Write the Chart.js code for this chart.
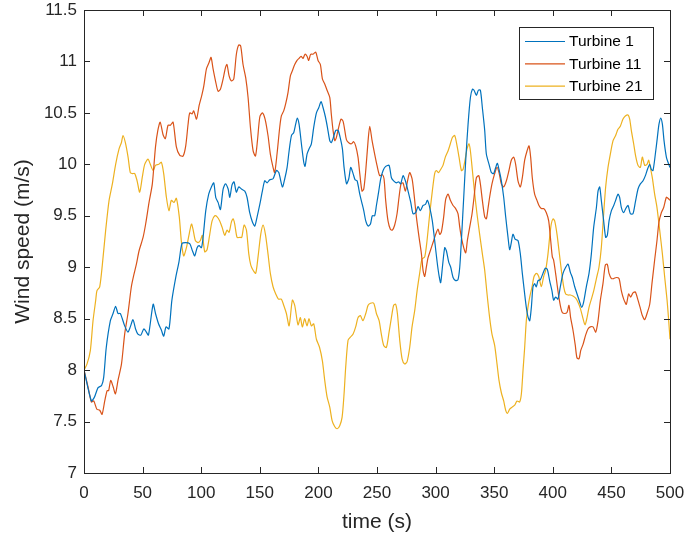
<!DOCTYPE html>
<html>
<head>
<meta charset="utf-8">
<script src="https://cdn.jsdelivr.net/npm/chart.js@4.4.1/dist/chart.umd.min.js"></script>
<style>
  html, body { margin: 0; padding: 0; background: #fff; }
  #wrap { width: 686px; height: 537px; }
</style>
</head>
<body>
<div id="wrap"><canvas id="windChart" width="686" height="537"></canvas></div>
<script>
// wind speed records for three turbines, time in seconds
const seriesNames = ['Turbine 1', 'Turbine 11', 'Turbine 21'];

const turbine1Time = [0, 6.3, 9, 12, 15, 16.8, 19, 22.5, 24.8, 27, 29, 31, 34.7, 37.5, 39.5, 41.8, 44, 46, 48.5, 51, 53.2, 55, 59, 61, 63.6, 66, 68, 70, 72.5, 75, 78.6, 81, 83.6, 86.5, 90.2, 92.5, 94.5, 96.5, 98.2, 100.2, 101.6, 103.9, 106.4, 108.7, 110.7, 112.4, 114.4, 116.4, 118.7, 120.7, 123, 124.4, 126.3, 128, 130, 132, 134.3, 137.2, 139.1, 141.4, 143.7, 145.7, 147.7, 150, 152.2, 154.2, 156.2, 158.5, 161.3, 164.2, 166.2, 169.3, 171.3, 173.3, 175, 177, 179, 180.6, 182, 183.5, 185.5, 187.5, 188.6, 190.3, 192, 194, 196, 198.3, 200.3, 202.3, 204, 206, 207.7, 209.7, 211, 212.5, 214.8, 216.8, 218.8, 220.5, 221.9, 224, 225.9, 227.6, 229.6, 231.3, 233, 235.3, 237, 238.7, 240.4, 242.4, 244.4, 246, 248, 249.5, 251.5, 253.2, 255.2, 257.4, 260.3, 262.3, 264.2, 266.5, 268.5, 270.2, 272.2, 274.2, 276.5, 278.8, 280.7, 283, 285, 287, 289.3, 291.3, 293, 295, 297.2, 299.2, 301.2, 302.9, 304.3, 305.8, 307.8, 309.2, 311.2, 312.9, 314.9, 317.1, 319.1, 320.6, 322, 324, 325.7, 327.7, 329.7, 331.4, 332.8, 334.8, 336.5, 338.2, 339.9, 341.9, 343.3, 345.6, 347.6, 349.5, 351.3, 352.7, 354.1, 356.1, 358.1, 359.8, 361.8, 363.2, 364.6, 366, 368, 370.3, 372.3, 374, 376, 377.4, 378.8, 380.3, 381.7, 383.1, 384.5, 385.9, 387.4, 389.4, 391.6, 393.6, 395.3, 397.3, 399.3, 400.7, 402.4, 404.4, 406.4, 408.7, 411, 413, 415, 416.7, 418.7, 420.7, 423, 424.6, 426.3, 428.6, 430.9, 432.9, 434.9, 437.2, 438.6, 440, 441.4, 443.4, 445.1, 446.5, 448, 450, 452, 453.6, 455.6, 457, 458.5, 460.5, 462.2, 464.2, 466.2, 468.4, 470.4, 472.7, 474.7, 477, 479, 480.7, 482.7, 484.1, 485.5, 487.5, 489.2, 490.6, 492.1, 493.5, 494.9, 496.9, 498.3, 500];
const turbine1Speed = [8.0, 7.70, 7.74, 7.83, 7.85, 7.93, 8.22, 8.48, 8.55, 8.62, 8.55, 8.55, 8.43, 8.37, 8.42, 8.49, 8.40, 8.35, 8.34, 8.40, 8.37, 8.34, 8.64, 8.55, 8.45, 8.39, 8.33, 8.42, 8.40, 8.68, 8.92, 9.05, 9.23, 9.24, 9.23, 9.16, 9.11, 9.19, 9.21, 9.19, 9.29, 9.55, 9.71, 9.78, 9.82, 9.68, 9.63, 9.56, 9.76, 9.81, 9.76, 9.68, 9.80, 9.83, 9.73, 9.78, 9.76, 9.74, 9.68, 9.53, 9.44, 9.40, 9.49, 9.61, 9.74, 9.84, 9.82, 9.85, 9.86, 9.94, 9.92, 9.78, 9.86, 9.97, 10.13, 10.28, 10.31, 10.39, 10.45, 10.39, 10.20, 10.02, 9.98, 10.10, 10.15, 10.20, 10.36, 10.50, 10.55, 10.61, 10.55, 10.46, 10.36, 10.23, 10.21, 10.25, 10.33, 10.33, 10.25, 10.15, 9.97, 9.81, 9.86, 9.97, 9.91, 9.85, 9.84, 9.71, 9.63, 9.55, 9.45, 9.40, 9.42, 9.50, 9.50, 9.60, 9.74, 9.86, 9.94, 9.98, 9.99, 9.87, 9.84, 9.82, 9.83, 9.81, 9.89, 9.84, 9.74, 9.63, 9.52, 9.53, 9.59, 9.55, 9.60, 9.61, 9.65, 9.58, 9.45, 9.26, 9.06, 8.92, 8.85, 9.00, 9.19, 9.16, 9.05, 9.00, 8.90, 8.87, 8.88, 9.00, 9.26, 9.68, 10.04, 10.39, 10.65, 10.73, 10.72, 10.67, 10.72, 10.72, 10.55, 10.33, 10.10, 10.00, 9.92, 9.91, 9.97, 10.01, 9.95, 9.84, 9.68, 9.49, 9.29, 9.17, 9.24, 9.32, 9.27, 9.26, 9.13, 8.94, 8.74, 8.61, 8.52, 8.48, 8.61, 8.81, 8.84, 8.81, 8.87, 8.88, 8.94, 8.99, 8.98, 8.87, 8.77, 8.68, 8.71, 8.69, 8.81, 8.94, 9.00, 9.03, 8.95, 8.90, 8.81, 8.74, 8.66, 8.61, 8.66, 8.81, 8.94, 9.13, 9.39, 9.58, 9.74, 9.78, 9.65, 9.45, 9.29, 9.31, 9.45, 9.55, 9.60, 9.65, 9.71, 9.68, 9.58, 9.53, 9.57, 9.60, 9.52, 9.52, 9.63, 9.76, 9.81, 9.84, 9.89, 9.95, 10.00, 9.95, 9.94, 10.10, 10.26, 10.39, 10.45, 10.39, 10.23, 10.07, 10.02, 9.97];

const turbine11Time = [0, 3.4, 6.3, 8.3, 11, 13.4, 15.4, 17.7, 19.7, 21, 22.8, 24.8, 26.8, 29, 32, 34.7, 37.5, 40.4, 42.4, 44.7, 47, 50.4, 52.6, 55.5, 58.3, 61, 63, 65, 67.4, 69.4, 71.7, 73.7, 76, 78.8, 81.6, 84.5, 86.8, 88.8, 90.2, 92.2, 93.6, 96, 98.2, 100.5, 102.2, 104.5, 106.7, 108.4, 110.1, 112.4, 114.4, 116.4, 118.7, 120.7, 122, 123.8, 125.8, 127.8, 130, 132, 133.7, 135.7, 138, 140, 142, 144.3, 146.3, 148, 150, 152.2, 154.5, 157, 159, 161.3, 162.7, 164.7, 167, 168.4, 170.4, 172.1, 174.1, 176.1, 177.8, 179.8, 181.8, 183.5, 185.2, 186.9, 188.6, 190.3, 191.7, 193.4, 195.4, 197.7, 199.7, 201.7, 203.4, 205.4, 207.4, 209.7, 211, 212.5, 214, 215.3, 217.3, 219.3, 221, 222.5, 223.9, 225.9, 228.2, 230.1, 231.8, 233.8, 235.3, 237.2, 238.7, 240.4, 242.4, 243.8, 245.8, 248, 250, 252.3, 254.6, 256, 257.4, 259.4, 261.4, 263.1, 265.1, 267.1, 268.8, 270.5, 272.2, 274.2, 275.9, 277.9, 279.9, 281.6, 283.6, 285.9, 287.9, 289.3, 290.7, 292.1, 293.5, 295.5, 297.8, 300.1, 302.1, 303.5, 304.9, 306.9, 308.6, 310.6, 312.6, 314.9, 317.1, 319.1, 320.6, 322, 324, 325.7, 327.1, 329.1, 331.1, 332.8, 334.8, 336.8, 338.2, 339.9, 341.9, 343.3, 344.7, 346.1, 348.1, 350.4, 352.4, 354.1, 356.1, 358.1, 360.4, 362.6, 364.6, 366.6, 368.3, 370.3, 372.3, 374, 376, 378, 379.7, 381.1, 382.5, 384.5, 386.5, 388.2, 390.2, 392.2, 394.5, 396.5, 398.2, 399.6, 400.7, 402.4, 404.4, 406.4, 408.1, 410.1, 412.1, 413.8, 415.2, 417.2, 419.2, 420.6, 422.4, 423.8, 425.8, 428, 430, 432, 434.3, 436.6, 438.6, 440.6, 442.8, 444.8, 446.5, 448, 450, 452, 454.2, 456.5, 458.5, 460.5, 462.7, 464.7, 466.4, 468.4, 470.4, 472.7, 474.7, 476.4, 478.4, 480.4, 482.7, 484.6, 486.9, 488.9, 490.6, 492.6, 494.6, 496.9, 498.3, 500];
const turbine11Speed = [8.0, 7.84, 7.69, 7.70, 7.62, 7.61, 7.57, 7.70, 7.80, 7.80, 7.90, 7.84, 7.77, 7.90, 8.06, 8.35, 8.55, 8.81, 8.92, 9.03, 9.16, 9.29, 9.42, 9.63, 9.81, 10.17, 10.33, 10.41, 10.29, 10.25, 10.38, 10.38, 10.41, 10.17, 10.09, 10.08, 10.18, 10.39, 10.50, 10.49, 10.52, 10.44, 10.57, 10.67, 10.76, 10.93, 10.99, 11.04, 10.93, 10.80, 10.71, 10.73, 10.83, 10.94, 10.97, 10.86, 10.81, 10.83, 11.07, 11.16, 11.15, 10.97, 10.84, 10.65, 10.36, 10.13, 10.08, 10.23, 10.46, 10.50, 10.44, 10.28, 10.10, 9.97, 9.92, 10.10, 10.36, 10.47, 10.52, 10.59, 10.70, 10.86, 10.91, 10.97, 11.01, 11.03, 11.05, 11.03, 11.07, 11.05, 11.01, 11.07, 11.07, 11.09, 11.01, 10.97, 10.83, 10.78, 10.72, 10.65, 10.49, 10.33, 10.23, 10.26, 10.36, 10.44, 10.42, 10.33, 10.24, 10.21, 10.20, 10.22, 10.18, 10.07, 9.91, 9.74, 9.76, 9.94, 10.23, 10.37, 10.23, 10.10, 9.99, 9.89, 9.90, 9.86, 9.65, 9.45, 9.37, 9.36, 9.41, 9.52, 9.68, 9.81, 9.82, 9.74, 9.83, 9.92, 9.86, 9.71, 9.49, 9.29, 9.13, 8.97, 8.91, 9.00, 9.09, 9.16, 9.24, 9.32, 9.37, 9.32, 9.34, 9.49, 9.66, 9.71, 9.65, 9.60, 9.57, 9.52, 9.39, 9.29, 9.19, 9.14, 9.26, 9.39, 9.52, 9.68, 9.87, 9.89, 9.81, 9.65, 9.49, 9.47, 9.57, 9.68, 9.81, 9.91, 9.97, 9.92, 9.81, 9.78, 9.84, 9.94, 10.04, 10.07, 10.00, 9.84, 9.78, 9.87, 10.04, 10.13, 10.18, 10.07, 9.87, 9.71, 9.65, 9.60, 9.57, 9.57, 9.53, 9.45, 9.26, 9.10, 9.07, 8.94, 8.77, 8.63, 8.56, 8.55, 8.56, 8.63, 8.51, 8.39, 8.24, 8.12, 8.11, 8.19, 8.25, 8.34, 8.40, 8.42, 8.42, 8.37, 8.48, 8.68, 8.84, 9.02, 9.03, 8.94, 8.89, 8.89, 8.90, 8.89, 8.77, 8.69, 8.64, 8.74, 8.71, 8.75, 8.76, 8.68, 8.60, 8.53, 8.49, 8.55, 8.64, 8.84, 9.07, 9.26, 9.44, 9.53, 9.58, 9.68, 9.67, 9.65];

const turbine21Time = [0, 2.6, 5.4, 7.7, 10, 11, 13.4, 15.7, 18.5, 21.4, 24.2, 27, 29.9, 31.9, 33.3, 35.3, 37.6, 39.5, 41.3, 43.3, 45.3, 47.5, 49.8, 51.8, 54.6, 56.6, 59, 61, 63.7, 66, 68, 70.3, 72.5, 74.5, 76.8, 78.8, 81.3, 83, 85, 87.4, 89.7, 91.7, 93, 95, 97.3, 99.3, 101, 103, 105, 107.3, 109.3, 111.6, 113.6, 115.8, 117.8, 120.1, 122, 123.8, 125.8, 127.2, 128.6, 130.6, 132.9, 134.6, 136.6, 138.6, 140.6, 142.3, 144.3, 146.5, 148.5, 150.8, 152.8, 154.8, 157, 159, 161.3, 163.6, 165.9, 168.4, 170.4, 172.7, 175, 177.8, 179.8, 182.6, 184.6, 186.3, 188.3, 190.3, 192, 194, 196, 198.3, 201, 203.4, 205.4, 207.4, 209.7, 211.7, 214, 216, 218.2, 220.2, 221.9, 223.3, 225.3, 227.3, 229.6, 231.8, 233.8, 235.8, 238, 240.4, 242.4, 244.4, 247.2, 249.5, 251.8, 253.7, 255.7, 258, 260.3, 262.3, 264.2, 265.9, 267.4, 269.4, 271.4, 273.6, 275.6, 277.9, 279.9, 282.2, 284.2, 286.4, 288.4, 290.7, 292.7, 295, 297.2, 299.2, 300.6, 302.6, 304.3, 306.3, 308.3, 310.6, 312.6, 314.3, 316.3, 318.3, 320, 322, 323.4, 325.1, 326.8, 328.5, 329.7, 331.4, 333.4, 335.3, 337.6, 339.9, 341.9, 343.9, 346.1, 348.1, 350.4, 352.4, 354.1, 356.1, 358.1, 359.8, 361.2, 363.2, 365.2, 367.5, 369.5, 371.7, 373.2, 374.6, 376, 377.4, 378.8, 380.3, 382.3, 384, 386, 388, 390.2, 392.2, 393.9, 395.9, 397.3, 398.7, 400.2, 401.6, 403.6, 405.3, 407.3, 409.3, 411, 413, 415, 417.2, 419.5, 421.5, 423.5, 425.8, 427.5, 429.2, 430.9, 432.9, 434.9, 437.2, 439.4, 441.4, 443.4, 445.1, 447.1, 449.1, 451.4, 453.6, 455.6, 457.6, 459.9, 461.9, 464.2, 465.6, 467, 469, 470.7, 472.7, 474.7, 476.4, 478.4, 480.4, 481.8, 483.2, 484.9, 486.9, 488.9, 491.2, 493.5, 495.5, 497.5, 498.9, 500];
const turbine21Speed = [8.0, 8.06, 8.19, 8.48, 8.68, 8.77, 8.81, 9.03, 9.36, 9.65, 9.81, 10.00, 10.15, 10.21, 10.28, 10.21, 10.07, 9.92, 9.91, 9.91, 9.84, 9.73, 9.88, 10.00, 10.05, 10.00, 9.94, 9.99, 10.00, 10.02, 9.91, 9.68, 9.55, 9.65, 9.63, 9.67, 9.49, 9.26, 9.11, 9.19, 9.32, 9.42, 9.37, 9.26, 9.24, 9.26, 9.31, 9.15, 9.17, 9.32, 9.45, 9.50, 9.49, 9.45, 9.39, 9.31, 9.36, 9.34, 9.44, 9.47, 9.42, 9.29, 9.29, 9.29, 9.41, 9.36, 9.13, 9.02, 8.97, 8.94, 9.10, 9.32, 9.41, 9.32, 9.13, 8.94, 8.81, 8.74, 8.69, 8.69, 8.63, 8.55, 8.43, 8.68, 8.63, 8.44, 8.51, 8.42, 8.50, 8.43, 8.50, 8.43, 8.45, 8.30, 8.22, 8.09, 7.90, 7.74, 7.64, 7.51, 7.45, 7.43, 7.46, 7.54, 7.77, 8.03, 8.29, 8.32, 8.35, 8.42, 8.51, 8.53, 8.48, 8.55, 8.63, 8.65, 8.65, 8.55, 8.48, 8.35, 8.24, 8.22, 8.37, 8.51, 8.63, 8.64, 8.55, 8.29, 8.11, 8.06, 8.08, 8.22, 8.42, 8.58, 8.77, 8.94, 9.08, 9.10, 9.26, 9.52, 9.74, 9.91, 9.94, 9.92, 9.95, 9.99, 10.07, 10.13, 10.20, 10.26, 10.28, 10.18, 10.07, 9.94, 9.95, 10.04, 10.15, 10.20, 10.13, 9.94, 9.71, 9.52, 9.32, 9.13, 8.97, 8.74, 8.51, 8.35, 8.24, 8.06, 7.90, 7.78, 7.70, 7.61, 7.58, 7.62, 7.64, 7.66, 7.70, 7.69, 7.77, 8.00, 8.22, 8.48, 8.61, 8.71, 8.81, 8.91, 8.94, 8.91, 8.81, 8.91, 8.97, 9.13, 9.29, 9.42, 9.47, 9.45, 9.32, 9.16, 8.97, 8.81, 8.74, 8.73, 8.73, 8.72, 8.70, 8.66, 8.60, 8.50, 8.44, 8.51, 8.61, 8.69, 8.77, 8.89, 9.00, 9.19, 9.52, 9.78, 9.97, 10.10, 10.23, 10.28, 10.34, 10.37, 10.44, 10.47, 10.48, 10.44, 10.33, 10.20, 10.08, 9.99, 9.97, 10.07, 9.99, 10.00, 10.04, 9.97, 9.87, 9.71, 9.58, 9.36, 9.13, 8.90, 8.68, 8.48, 8.30];

const xTickValues = [0, 50, 100, 150, 200, 250, 300, 350, 400, 450, 500];
const yTickValues = [7, 7.5, 8, 8.5, 9, 9.5, 10, 10.5, 11, 11.5];

const lineColors = ['#0072BD', '#D95319', '#EDB120'];
const axisColor = '#262626';
const fontFamily = '"Liberation Sans", Arial, Helvetica, sans-serif';

const toPoints = (times, speeds) => times.map((t, i) => ({x: t, y: speeds[i]}));
const allSeries = [
    toPoints(turbine1Time, turbine1Speed),
    toPoints(turbine11Time, turbine11Speed),
    toPoints(turbine21Time, turbine21Speed),
];

// box around the axes with inward tick marks on all four sides
const boxAxes = {
    id: 'boxAxes',
    afterDatasetsDraw(chart) {
        const {ctx, chartArea: a, scales: {x, y}} = chart;
        const len = 6;
        ctx.save();
        ctx.strokeStyle = axisColor;
        ctx.lineWidth = 1;
        ctx.beginPath();
        x.ticks.forEach(t => {
            const px = Math.round(x.getPixelForValue(t.value)) + 0.5;
            ctx.moveTo(px, a.bottom); ctx.lineTo(px, a.bottom - len);
            ctx.moveTo(px, a.top); ctx.lineTo(px, a.top + len);
        });
        y.ticks.forEach(t => {
            const py = Math.round(y.getPixelForValue(t.value)) + 0.5;
            ctx.moveTo(a.left, py); ctx.lineTo(a.left + len, py);
            ctx.moveTo(a.right, py); ctx.lineTo(a.right - len, py);
        });
        ctx.stroke();
        ctx.strokeRect(Math.round(a.left) + 0.5, Math.round(a.top) + 0.5,
            Math.round(a.right - a.left), Math.round(a.bottom - a.top));
        ctx.restore();
    }
};

// legend box in the upper right corner of the axes
const boxLegend = {
    id: 'boxLegend',
    afterDraw(chart) {
        const {ctx, chartArea: a} = chart;
        const w = 134, h = 72;
        const left = a.right - 17 - w, top = a.top + 17;
        ctx.save();
        ctx.fillStyle = '#fff';
        ctx.fillRect(left, top, w, h);
        ctx.strokeStyle = axisColor;
        ctx.lineWidth = 1;
        ctx.strokeRect(Math.round(left) + 0.5, Math.round(top) + 0.5, w, h);
        ctx.font = '15.5px ' + fontFamily;
        ctx.textBaseline = 'middle';
        chart.data.datasets.forEach((ds, i) => {
            const cy = top + 14.5 + i * 22.3;
            ctx.strokeStyle = ds.borderColor;
            ctx.lineWidth = 1.2;
            ctx.beginPath();
            ctx.moveTo(left + 6, cy);
            ctx.lineTo(left + 46, cy);
            ctx.stroke();
            ctx.fillStyle = '#000';
            ctx.fillText(ds.label, left + 50, cy + 0.5);
        });
        ctx.restore();
    }
};

new Chart(document.getElementById('windChart'), {
    type: 'line',
    data: {
        datasets: allSeries.map((pts, i) => ({
            label: seriesNames[i],
            data: pts,
            borderColor: lineColors[i],
            backgroundColor: lineColors[i],
            borderWidth: 1.2,
            pointRadius: 0,
            tension: 0.25,
            fill: false,
        })),
    },
    options: {
        responsive: false,
        devicePixelRatio: 1,
        animation: false,
        layout: {padding: {top: 10, right: 16, bottom: 0, left: 0}},
        plugins: {
            legend: {display: false},
            tooltip: {enabled: false},
        },
        scales: {
            x: {
                type: 'linear',
                min: 0,
                max: 500,
                // fixed band height; the layout padding leaves room for end labels
                afterFit: s => { s.height = 64; s.paddingLeft = 0; s.paddingRight = 0; },
                afterBuildTicks: s => { s.ticks = xTickValues.map(v => ({value: v})); },
                grid: {display: false, drawTicks: false},
                border: {display: false},
                ticks: {
                    color: axisColor,
                    padding: 10,
                    maxRotation: 0,
                    font: {family: fontFamily, size: 17},
                    callback: v => String(v),
                },
                title: {
                    display: true,
                    text: 'time (s)',
                    color: axisColor,
                    padding: {top: 0, bottom: 2},
                    font: {family: fontFamily, size: 21},
                },
            },
            y: {
                min: 7,
                max: 11.5,
                afterFit: s => { s.width = 84; s.paddingTop = 0; s.paddingBottom = 0; },
                afterBuildTicks: s => { s.ticks = yTickValues.map(v => ({value: v})); },
                grid: {display: false, drawTicks: false},
                border: {display: false},
                ticks: {
                    color: axisColor,
                    padding: 7,
                    font: {family: fontFamily, size: 17},
                    callback: v => String(v),
                },
                title: {
                    display: true,
                    text: 'Wind speed (m/s)',
                    color: axisColor,
                    padding: {top: 11, bottom: 0},
                    font: {family: fontFamily, size: 21},
                },
            },
        },
    },
    plugins: [boxAxes, boxLegend],
});
</script>
</body>
</html>
